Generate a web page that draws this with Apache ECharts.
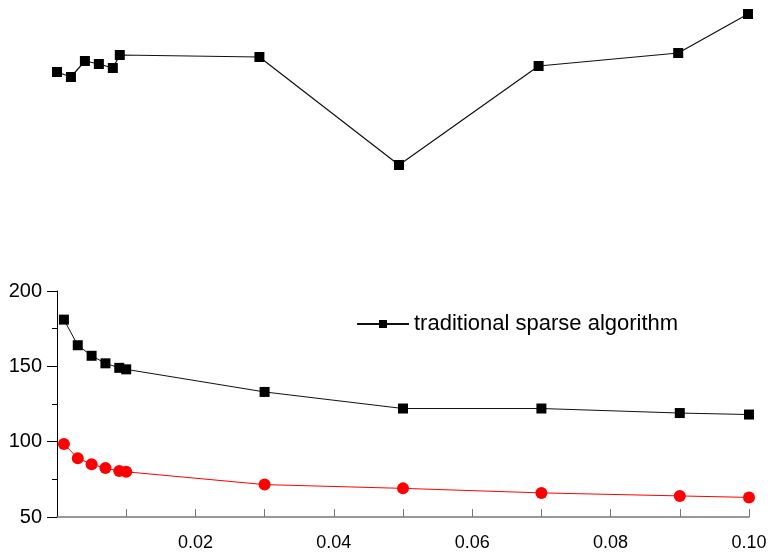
<!DOCTYPE html>
<html>
<head>
<meta charset="utf-8">
<script src="https://cdn.jsdelivr.net/npm/echarts@6/dist/echarts.min.js"></script>
<style>
  html, body { margin: 0; padding: 0; background: #fff; }
  #cn { width: 772px; height: 559px; }
</style>
</head>
<body>
<div id="cn"></div>
<script>
'use strict';

// x values shared by every series
const arrX = [0.001, 0.003, 0.005, 0.007, 0.009, 0.01, 0.03, 0.05, 0.07, 0.09, 0.1];

// upper panel (no axes shown)
const arrTop = [128, 123, 139, 136, 132, 145, 143, 35, 134, 147, 186];

// lower panel
const arrTraditional = [181, 164, 157, 152, 149, 148, 133, 122, 122, 119, 118];
const arrRed = [98.5, 89, 85, 82.5, 80.5, 80, 71.5, 69, 66, 64, 63];

const arrTickX = [0.01, 0.02, 0.03, 0.04, 0.05, 0.06, 0.07, 0.08, 0.09, 0.1];
const arrLabelX = [0.02, 0.04, 0.06, 0.08, 0.1];

const strFont = 'Liberation Sans, Arial, sans-serif';

const toPairs = arr => arr.map((v, i) => [arrX[i], v]);

const chart = echarts.init(document.getElementById('cn'));

const option = {
    animation: false,
    backgroundColor: '#fff',
    textStyle: { fontFamily: strFont },
    legend: {
        data: ['traditional sparse algorithm'],
        left: 351,
        top: 308,
        itemWidth: 52,
        itemHeight: 10,
        itemGap: 0,
        textStyle: { fontSize: 22, color: '#000', fontFamily: strFont }
    },
    grid: [{
        left: 50, top: 0, width: 698, height: 200
    }, {
        left: 57, right: 23, top: 291, bottom: 42
    }],
    xAxis: [{
        gridIndex: 0, type: 'value', min: 0, max: 0.1, show: false
    }, {
        gridIndex: 1,
        type: 'value',
        min: 0,
        max: 0.1,
        splitLine: { show: false },
        axisLine: { onZero: false, lineStyle: { color: '#777', width: 1.5 } },
        axisTick: {
            customValues: arrTickX,
            inside: true,
            length: 8,
            lineStyle: { color: '#777', width: 1 }
        },
        axisLabel: {
            customValues: arrLabelX,
            formatter: v => v.toFixed(2),
            color: '#000',
            fontSize: 18,
            margin: 17,
            fontFamily: strFont
        }
    }],
    yAxis: [{
        gridIndex: 0, type: 'value', min: 0, max: 200, show: false
    }, {
        gridIndex: 1,
        type: 'value',
        min: 50,
        max: 200,
        interval: 50,
        splitLine: { show: false },
        axisLine: { show: true, onZero: false, lineStyle: { color: '#000', width: 1 } },
        axisTick: { show: true, length: 10, lineStyle: { color: '#000' } },
        minorTick: { show: true, splitNumber: 2, length: 5, lineStyle: { color: '#000' } },
        axisLabel: { color: '#000', fontSize: 20, margin: 15, fontFamily: strFont }
    }],
    series: [{
        name: 'top',
        type: 'line',
        xAxisIndex: 0,
        yAxisIndex: 0,
        data: toPairs(arrTop),
        symbol: 'rect',
        symbolSize: 10,
        clip: false,
        itemStyle: { color: '#000' },
        lineStyle: { color: '#111', width: 1.2 }
    }, {
        name: 'traditional sparse algorithm',
        type: 'line',
        xAxisIndex: 1,
        yAxisIndex: 1,
        data: toPairs(arrTraditional),
        symbol: 'rect',
        symbolSize: 10,
        clip: false,
        itemStyle: { color: '#000' },
        lineStyle: { color: '#111', width: 1 }
    }, {
        name: 'red',
        type: 'line',
        xAxisIndex: 1,
        yAxisIndex: 1,
        data: toPairs(arrRed),
        symbol: 'circle',
        symbolSize: 12,
        clip: false,
        itemStyle: { color: '#ff0000' },
        lineStyle: { color: '#ff0000', width: 1 }
    }]
};

chart.setOption(option);
</script>
</body>
</html>
